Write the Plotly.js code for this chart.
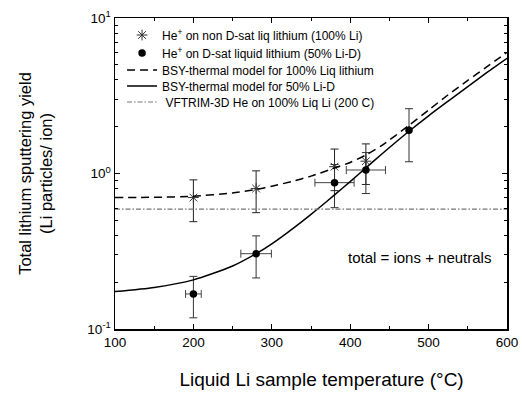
<!DOCTYPE html>
<html>
<head>
<meta charset="utf-8">
<script src="https://cdn.plot.ly/plotly-3.0.1.min.js"></script>
<style>html,body{margin:0;padding:0;background:#fff;}#chart{width:522px;height:397px;}</style>
</head>
<body>
<div id="chart"></div>
<script>
// Measured data: He+ on non D-saturated liquid lithium (100% Li)
var starTemp = [200, 280, 380, 420];
var starYield = [0.70, 0.80, 1.106, 1.20];
var starErrY = [0.21, 0.24, 0.33, 0.35];

// Measured data: He+ on D-saturated liquid lithium (50% Li-D)
var circTemp = [200, 280, 380, 420, 475];
var circYield = [0.168, 0.305, 0.873, 1.053, 1.90];
var circErrY = [0.05, 0.092, 0.27, 0.31, 0.71];
var circErrX = [10, 19.5, 25, 25, 0];

// BSY-thermal model for 100% liquid lithium
var bsy100Temp = [100, 150, 200, 250, 280, 300, 325, 350, 380, 400, 420, 440, 475, 500, 525, 550, 575, 600];
var bsy100Yield = [0.70, 0.703, 0.714, 0.75, 0.79, 0.828, 0.887, 0.962, 1.084, 1.178, 1.315, 1.51, 2.04, 2.56, 3.21, 3.97, 4.89, 6.01];

// BSY-thermal model for 50% Li-D
var bsy50Temp = [100, 150, 200, 250, 280, 300, 320, 340, 360, 380, 400, 420, 440, 475, 500, 525, 550, 575, 600];
var bsy50Yield = [0.174, 0.185, 0.207, 0.254, 0.305, 0.353, 0.417, 0.498, 0.600, 0.728, 0.887, 1.086, 1.33, 1.87, 2.35, 2.92, 3.62, 4.48, 5.5];

// VFTRIM-3D He on 100% liquid Li (200 C)
var vftTemp = [100, 600];
var vftYield = [0.59, 0.59];

var xTickVals = [100, 200, 300, 400, 500, 600];
var yTickVals = [0.1, 1, 10];
var yTickText = ['10<sup>-1</sup>', '10<sup>0</sup>', '10<sup>1</sup>'];

var FONT = 'Liberation Sans, Arial, sans-serif';

var traces = [
  {
    x: starTemp, y: starYield, type: 'scatter', mode: 'markers', legend: 'legend',
    name: 'He<sup>+</sup> on non D-sat liq lithium (100% Li)',
    marker: {symbol: 'asterisk-open', size: 9, color: '#333', line: {color: '#333', width: 1}},
    error_y: {type: 'data', array: starErrY, visible: true, color: '#222', thickness: 1, width: 4}
  },
  {
    x: circTemp, y: circYield, type: 'scatter', mode: 'markers', legend: 'legend2',
    name: 'He<sup>+</sup> on D-sat liquid lithium (50% Li-D)',
    marker: {symbol: 'circle', size: 7.5, color: '#000'},
    error_y: {type: 'data', array: circErrY, visible: true, color: '#333', thickness: 1, width: 4},
    error_x: {type: 'data', array: circErrX, visible: true, color: '#444', thickness: 1, width: 4}
  },
  {
    x: bsy100Temp, y: bsy100Yield, type: 'scatter', mode: 'lines', legend: 'legend3',
    name: 'BSY-thermal model for 100% Liq lithium',
    line: {color: '#000', width: 1.5, dash: '8px,5px', shape: 'spline', smoothing: 0.6}
  },
  {
    x: bsy50Temp, y: bsy50Yield, type: 'scatter', mode: 'lines', legend: 'legend4',
    name: 'BSY-thermal model for 50% Li-D',
    line: {color: '#000', width: 1.5, shape: 'spline', smoothing: 0.6}
  },
  {
    x: vftTemp, y: vftYield, type: 'scatter', mode: 'lines', legend: 'legend5',
    name: ' VFTRIM-3D He on 100% Liq Li (200 C)',
    line: {color: '#777', width: 1.2, dash: '5px,2px,1.5px,2px'}
  }
];

function leg(yc) {
  return {
    x: 0.018, y: (329 - yc) / 311, xanchor: 'left', yanchor: 'middle',
    bgcolor: 'rgba(0,0,0,0)', borderwidth: 0,
    font: {family: FONT, size: 12, color: '#000'},
    itemwidth: 30, tracegroupgap: 0
  };
}

var layout = {
  width: 522, height: 397,
  margin: {l: 115, r: 15, t: 18, b: 68, pad: 0},
  paper_bgcolor: '#fff', plot_bgcolor: '#fff',
  font: {family: FONT, color: '#000', size: 13},
  showlegend: true,
  legend: leg(35),
  legend2: leg(53),
  legend3: leg(70),
  legend4: leg(86),
  legend5: leg(102),
  xaxis: {
    type: 'linear', range: [100, 600],
    tickmode: 'array', tickvals: xTickVals,
    ticks: 'inside', ticklen: 5, tickwidth: 1, tickcolor: '#000',
    minor: {dtick: 50, tick0: 100, ticks: 'inside', ticklen: 3, tickwidth: 1, tickcolor: '#000'},
    showline: true, linecolor: '#000', linewidth: 1.5, mirror: 'allticks',
    showgrid: false, zeroline: false,
    tickfont: {family: FONT, size: 13.5},
    title: {text: '&nbsp;&nbsp;&nbsp;&nbsp;Liquid Li sample temperature (°C)', font: {family: FONT, size: 19}, standoff: 24}
  },
  yaxis: {
    type: 'log', range: [-1, 1],
    tickmode: 'array', tickvals: yTickVals, ticktext: yTickText,
    ticks: 'inside', ticklen: 5, tickwidth: 1, tickcolor: '#000',
    minor: {tickmode: 'array', tickvals: [0.2,0.3,0.4,0.5,0.6,0.7,0.8,0.9,2,3,4,5,6,7,8,9],
            ticks: 'inside', ticklen: 3, tickwidth: 1, tickcolor: '#000'},
    showline: true, linecolor: '#000', linewidth: 1.5, mirror: 'allticks',
    showgrid: false, zeroline: false,
    tickfont: {family: FONT, size: 13.5},
    title: {text: 'Total lithium sputtering yield<br>(Li particles/ ion)', font: {family: FONT, size: 16.5}, standoff: 30}
  },
  annotations: [{
    xref: 'paper', yref: 'paper', x: (419 - 115) / 392, y: (329 - 257) / 311,
    xanchor: 'center', yanchor: 'middle', showarrow: false,
    text: 'total = ions + neutrals',
    font: {family: FONT, size: 15, color: '#000'}
  }]
};

Plotly.newPlot('chart', traces, layout, {displayModeBar: false, staticPlot: true});
</script>
</body>
</html>
